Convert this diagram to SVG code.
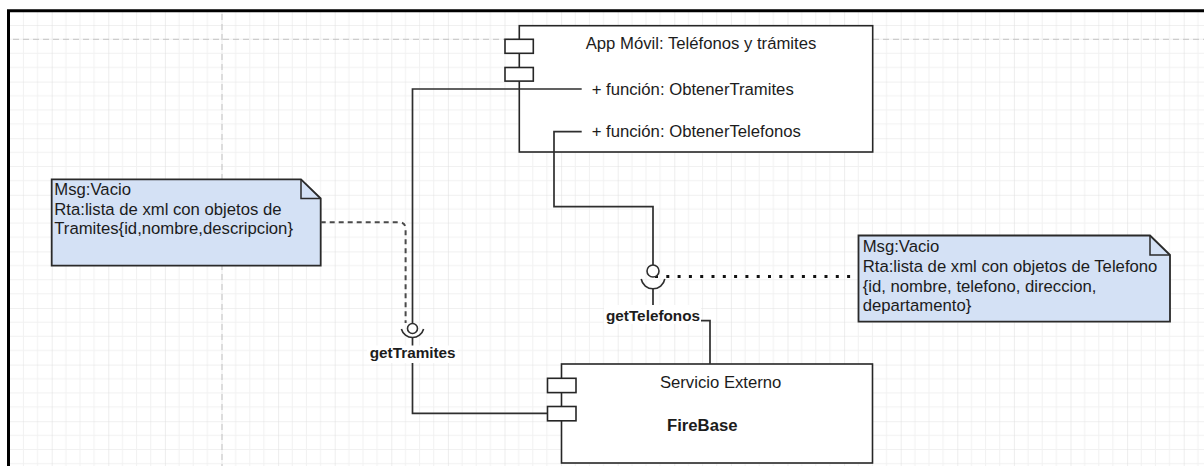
<svg xmlns="http://www.w3.org/2000/svg" width="1204" height="466" viewBox="0 0 1204 466">
<defs>
<pattern id="grid" patternUnits="userSpaceOnUse" x="51.7" y="25" width="56.6" height="56.6">
<path d="M14.15 0V56.6M28.3 0V56.6M42.45 0V56.6M0 14.15H56.6M0 28.3H56.6M0 42.45H56.6" stroke="#f1f1f1" stroke-width="1" fill="none"/>
<path d="M0 0V56.6M0 0H56.6" stroke="#e1e1e1" stroke-width="1.2" fill="none"/>
</pattern>
<style>
.t{font-family:"Liberation Sans",Arial,sans-serif;font-size:16.7px;fill:#1c1c1c}
.b{font-weight:bold}
.lbl{font-family:"Liberation Sans",Arial,sans-serif;font-size:15.3px;font-weight:bold;fill:#1c1c1c}
.box{fill:#fff;stroke:#262626;stroke-width:1.6}
.port{fill:#fff;stroke:#262626;stroke-width:1.6}
.note{fill:#d4e1f5;stroke:#2a2a2a;stroke-width:1.8}
.ln{fill:none;stroke:#2e2e2e;stroke-width:1.7}
.guide{fill:none;stroke:#c4c4c4;stroke-width:1;stroke-dasharray:6 4}
</style>
</defs>
<rect x="0" y="0" width="1204" height="466" fill="#fff"/>
<rect x="9" y="11" width="1195" height="455" fill="url(#grid)"/>
<g id="guides">
<path class="guide" d="M13 39.3H1204"/>
<path class="guide" d="M222 14V466"/>
</g>
<g id="frame">
<path d="M8.5 466V10.7H1204" fill="none" stroke="#000" stroke-width="3"/>
</g>
<g id="app">
<rect class="box" x="519.3" y="25.7" width="353.4" height="126.3"/>
<rect class="port" x="505" y="39.3" width="28.3" height="14"/>
<rect class="port" x="505" y="67.5" width="28.3" height="13.6"/>
<text class="t" x="585.7" y="49.3">App Móvil: Teléfonos y trámites</text>
<text class="t" x="591.7" y="95">+ función: ObtenerTramites</text>
<text class="t" x="591.7" y="137.3">+ función: ObtenerTelefonos</text>
</g>
<g id="servicio">
<rect class="box" x="561.5" y="364" width="311" height="99"/>
<rect class="port" x="547.5" y="378.3" width="28.5" height="14.3"/>
<rect class="port" x="547.5" y="406.5" width="28.5" height="14.3"/>
<text class="t" x="659.9" y="388.3">Servicio Externo</text>
<text class="t b" x="667" y="430.7">FireBase</text>
</g>
<g id="note-tramites">
<path class="note" d="M51.7 179.3H301L320.7 198.5V265.7H51.7Z"/>
<path d="M301 179.3V198.5H320.7" fill="none" stroke="#2a2a2a" stroke-width="1.5"/>
<text class="t" x="54.3" y="195">Msg:Vacio</text>
<text class="t" x="54.3" y="214.8">Rta:lista de xml con objetos de</text>
<text class="t" x="54.3" y="234.4">Tramites{id,nombre,descripcion}</text>
</g>
<g id="note-telefonos">
<path class="note" d="M858.5 235.5H1150L1170 255V321.7H858.5Z"/>
<path d="M1150 235.5V255H1170" fill="none" stroke="#2a2a2a" stroke-width="1.5"/>
<text class="t" x="862.7" y="251.5">Msg:Vacio</text>
<text class="t" x="862.7" y="271.5">Rta:lista de xml con objetos de Telefono</text>
<text class="t" x="862.7" y="291.5">{id, nombre, telefono, direccion,</text>
<text class="t" x="862.7" y="311.3">departamento}</text>
</g>
<g id="connectors">
<path class="ln" d="M581.7 89H412.5V323.5"/>
<path class="ln" d="M412.5 337.5V413.3H547.5"/>
<path class="ln" d="M581.7 131.7H554V206.7H653V265"/>
<path class="ln" d="M653 289V320.7H710V364"/>
<path d="M320.7 222.3H399Q405.6 222.3 405.6 229V323" fill="none" stroke="#4a4a4a" stroke-width="2" stroke-dasharray="5 4"/>
<path d="M655 276.5H858" fill="none" stroke="#111" stroke-width="3" stroke-dasharray="3 8.3"/>
</g>
<g id="iface-getTramites">
<circle cx="412.5" cy="328.5" r="5" fill="#fff" stroke="#2e2e2e" stroke-width="1.6"/>
<path d="M401.4 329A11.5 11.5 0 0 0 423.6 329" fill="none" stroke="#2e2e2e" stroke-width="1.6"/>
<rect x="367" y="345.5" width="91" height="17.5" fill="#fff"/>
<text class="lbl" x="412.7" y="358.3" text-anchor="middle">getTramites</text>
</g>
<g id="iface-getTelefonos">
<circle cx="653" cy="271" r="6" fill="#fff" stroke="#2e2e2e" stroke-width="1.6"/>
<path d="M641.2 279A12 12 0 0 0 664.8 279" fill="none" stroke="#2e2e2e" stroke-width="1.6"/>
<rect x="604" y="305" width="97" height="19" fill="#fff"/>
<text class="lbl" x="653" y="321" text-anchor="middle">getTelefonos</text>
</g>
</svg>
